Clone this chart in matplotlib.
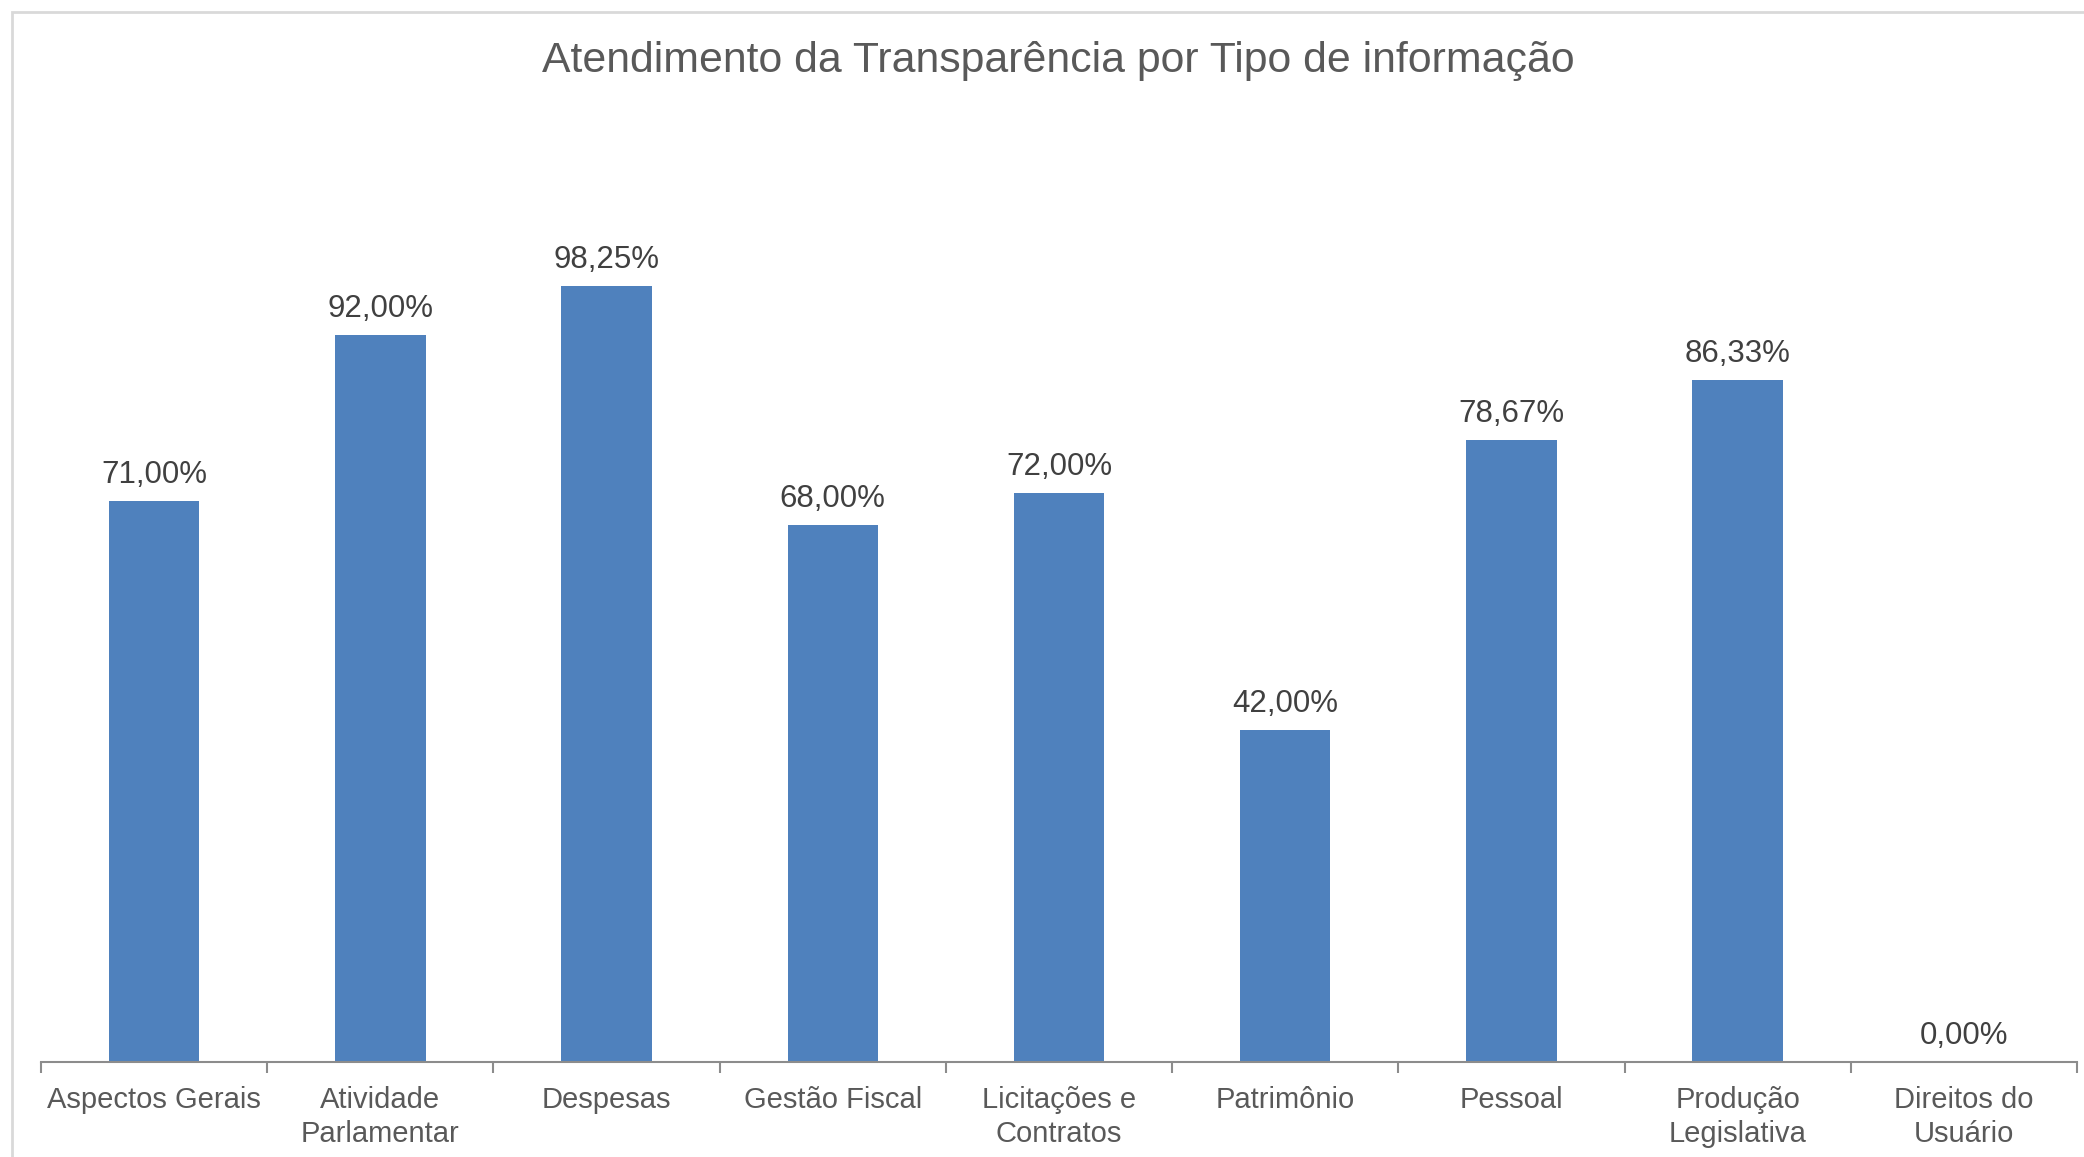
import matplotlib.pyplot as plt
from matplotlib.patches import Rectangle
import numpy as np

categories = ["Aspectos Gerais", "Atividade\nParlamentar", "Despesas", "Gestão Fiscal",
              "Licitações e\nContratos", "Patrimônio", "Pessoal", "Produção\nLegislativa",
              "Direitos do\nUsuário"]
values = [0.71, 0.92, 0.9825, 0.68, 0.72, 0.42, 0.7867, 0.8633, 0.0]
value_labels = ["71,00%", "92,00%", "98,25%", "68,00%", "72,00%", "42,00%", "78,67%", "86,33%", "0,00%"]

plt.rcParams["font.family"] = ["Liberation Sans", "DejaVu Sans"]

fig = plt.figure(figsize=(20.84, 11.57), dpi=100)
ax = fig.add_axes([0.0197, 0.0821, 0.9769, 0.8194])

x = np.arange(len(categories))
bars = ax.bar(x, values, width=0.4, color="#4F81BD")

for xi, v, lab in zip(x, values, value_labels):
    ax.annotate(lab, (xi, v), xytext=(0, 8), textcoords="offset points",
                ha="center", va="bottom", fontsize=22.5, color="#404040")

ax.set_xlim(-0.5, len(categories) - 0.5)
ax.set_ylim(0, 1.2)

for side in ["left", "right", "top"]:
    ax.spines[side].set_visible(False)
ax.spines["bottom"].set_color("#8c8c8c")
ax.spines["bottom"].set_linewidth(1.5)

ax.set_yticks([])
ax.set_xticks(x)
ax.set_xticklabels(categories, fontsize=21, color="#595959", linespacing=1.3)
ax.tick_params(axis="x", which="major", length=0, pad=17)
ax.set_xticks(np.arange(-0.5, len(categories)), minor=True)
ax.tick_params(axis="x", which="minor", length=8, width=1.5, color="#8c8c8c", direction="out")

fig.text(0.508, 0.9475, "Atendimento da Transparência por Tipo de informação",
         ha="center", va="center", fontsize=30.8, color="#595959")

# chart area border (cut off at right and bottom in the original)
fig.patches.append(Rectangle((12 / 2084, -0.05), 1.2, 1 - 12 / 1157 + 0.05,
                             transform=fig.transFigure, fill=False,
                             edgecolor="#d9d9d9", linewidth=2, clip_on=False))

fig.savefig("out.png", dpi=100)
